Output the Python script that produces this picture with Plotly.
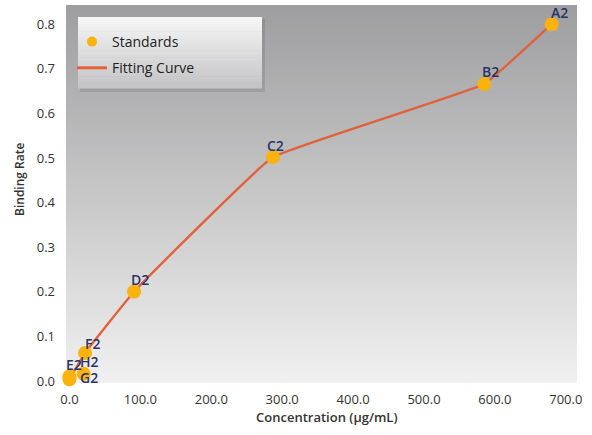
import plotly.graph_objects as go

# ---- data ----
labels = ["A2", "B2", "C2", "D2", "F2", "H2", "E2", "G2"]
concentration = [680, 585, 287, 91, 22, 20, 0, 0]
binding_rate = [0.80, 0.666, 0.502, 0.20, 0.063, 0.016, 0.010, 0.004]

fit_conc = [0, 22, 91, 287, 585, 680]
fit_rate = [0.004, 0.063, 0.20, 0.502, 0.666, 0.80]

x_ticks = [0, 100, 200, 300, 400, 500, 600, 700]
y_ticks = [0.0, 0.1, 0.2, 0.3, 0.4, 0.5, 0.6, 0.7, 0.8]

# ---- style ----
label_shift = {  # (xshift, yshift) in px for each label
    "A2": (8, 12), "B2": (6, 12), "C2": (3, 12), "D2": (6, 12),
    "F2": (7, 9), "H2": (6, 12), "E2": (5, 12), "G2": (20, 2),
}
FONT = "Open Sans"
MARKER_C = "#f9b30c"
LINE_C = "#e2603a"
W, H = 592, 435
ML, MR, MT, MB = 66, 15, 5, 52
PW, PH = W - ML - MR, H - MT - MB


def px_x(p):
    return (p - ML) / PW


def px_y(p):
    return (H - MB - p) / PH


fig = go.Figure()

# fitting curve (drawn first, under the markers)
fig.add_trace(go.Scatter(
    x=fit_conc, y=fit_rate, mode="lines", name="Fitting Curve",
    line=dict(color=LINE_C, width=2.4, shape="spline", smoothing=0.25),
    showlegend=False, cliponaxis=False, hoverinfo="skip",
))
fig.add_trace(go.Scatter(
    x=concentration, y=binding_rate, mode="markers", name="Standards",
    marker=dict(color=MARKER_C, size=14, line=dict(width=0)),
    showlegend=False, cliponaxis=False,
))
# legend entries (smaller symbols, as in the reference legend)
fig.add_trace(go.Scatter(
    x=[None], y=[None], mode="markers", name="Standards",
    marker=dict(color=MARKER_C, size=10, line=dict(width=0)),
    legendgroup="a", legendrank=1,
))
fig.add_trace(go.Scatter(
    x=[None], y=[None], mode="lines", name="Fitting Curve",
    line=dict(color=LINE_C, width=3),
    legendgroup="b", legendrank=2,
))

annotations = []
for lab, xv, yv in zip(labels, concentration, binding_rate):
    dx, dy = label_shift[lab]
    annotations.append(dict(
        x=xv, y=yv, xref="x", yref="y", text=lab, showarrow=False,
        xshift=dx, yshift=dy,
        font=dict(family=FONT, size=14, color="#283563", weight=600),
    ))

# axis titles
annotations.append(dict(
    x=px_x(327), y=px_y(417), xref="paper", yref="paper",
    xanchor="center", yanchor="middle",
    text="Concentration (µg/mL)", showarrow=False,
    font=dict(family=FONT, size=13, color="#333333", weight=600),
))
annotations.append(dict(
    x=px_x(20), y=px_y(180), xref="paper", yref="paper",
    xanchor="center", yanchor="middle",
    text="Binding Rate", showarrow=False, textangle=-90,
    font=dict(family=FONT, size=12, color="#333333", weight=600),
))

shapes = []
# plot-area vertical gradient
N = 90
top_c = (158, 158, 160)
bot_c = (240, 240, 240)
for i in range(N):
    t = i / (N - 1)
    c = tuple(round(top_c[k] + (bot_c[k] - top_c[k]) * t) for k in range(3))
    shapes.append(dict(
        type="rect", xref="paper", yref="paper", x0=0, x1=1,
        y0=max(0, 1 - (i + 1) / N - 0.002), y1=1 - i / N,
        fillcolor="rgb(%d,%d,%d)" % c, line=dict(width=0), layer="below",
    ))

# legend box shadow
shapes.append(dict(
    type="rect", xref="paper", yref="paper",
    x0=px_x(80), x1=px_x(265), y0=px_y(92), y1=px_y(19),
    fillcolor="rgba(0,0,0,0.10)", line=dict(width=0), layer="below",
))
# legend box gradient
LN = 30
lt = (246, 246, 246)
lb = (196, 196, 198)
bx0, bx1, by0, by1 = 78, 262, 17, 88
for i in range(LN):
    t = i / (LN - 1)
    c = tuple(round(lt[k] + (lb[k] - lt[k]) * t) for k in range(3))
    ya = by0 + (by1 - by0) * i / LN
    yb = by0 + (by1 - by0) * (i + 1) / LN + 0.6
    shapes.append(dict(
        type="rect", xref="paper", yref="paper",
        x0=px_x(bx0), x1=px_x(bx1), y0=px_y(yb), y1=px_y(ya),
        fillcolor="rgb(%d,%d,%d)" % c, line=dict(width=0), layer="below",
    ))

fig.update_layout(
    width=W, height=H,
    margin=dict(l=ML, r=MR, t=MT, b=MB),
    paper_bgcolor="white", plot_bgcolor="rgb(240,240,240)",
    font=dict(family=FONT, color="#333333"),
    showlegend=True,
    legend=dict(
        x=px_x(72), y=px_y(26), xanchor="left", yanchor="top",
        bgcolor="rgba(0,0,0,0)", borderwidth=0,
        font=dict(family=FONT, size=14, color="#222222"),
        traceorder="grouped", tracegroupgap=5,
    ),
    xaxis=dict(
        range=[-4.9, 715.8], tickvals=x_ticks,
        ticktext=["%.1f" % v for v in x_ticks],
        showgrid=False, zeroline=False, showline=False, ticks="",
        ticklabelstandoff=7,
        tickfont=dict(family=FONT, size=13, color="#333333"),
    ),
    yaxis=dict(
        range=[-0.0045, 0.843], tickvals=y_ticks,
        ticktext=["%.1f" % v for v in y_ticks],
        showgrid=False, zeroline=False, showline=False, ticks="",
        ticklabelstandoff=10,
        tickfont=dict(family=FONT, size=13, color="#333333"),
    ),
    shapes=shapes,
    annotations=annotations,
)

fig.write_html(
    "out.html",
    config={"displayModeBar": False},
    post_script="document.body.style.margin='0';",
)
